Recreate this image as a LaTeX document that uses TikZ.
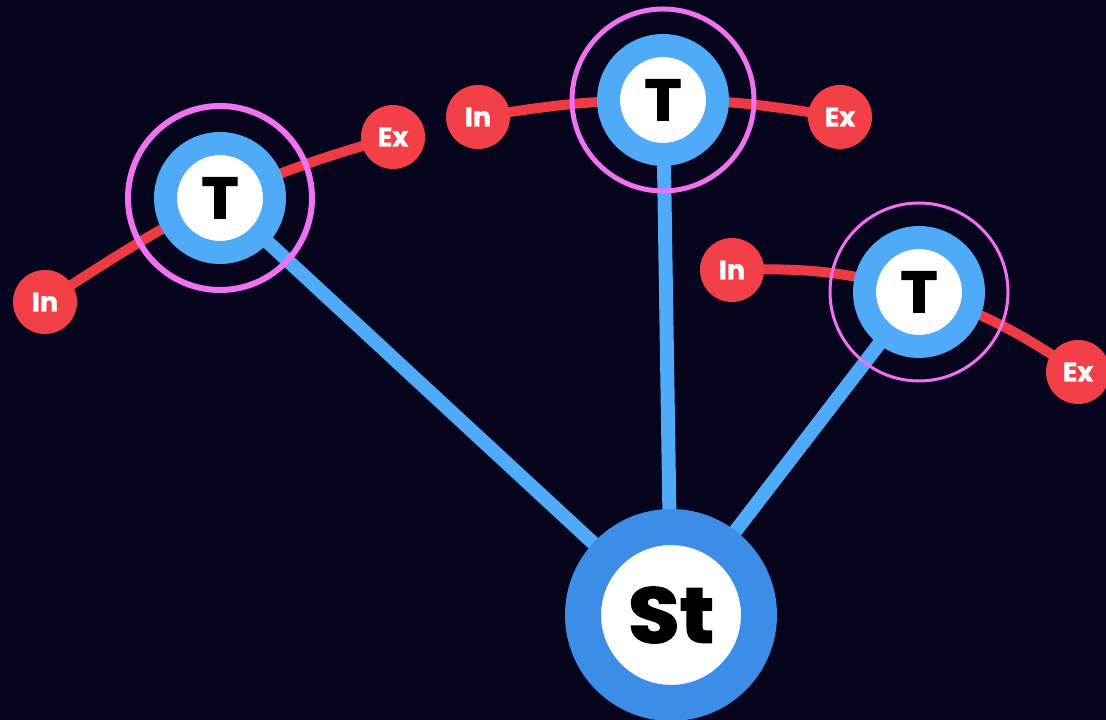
\documentclass[tikz,border=0pt]{standalone}
\usepackage{fontspec}
\setmainfont{Poppins}
\newfontfamily\heavyfont{Poppins}[FakeBold=2.2, FakeStretch=1.08]
\newfontfamily\labelfont{Poppins}[FakeBold=1.2]
\pgfdeclarelayer{back}
\pgfdeclarelayer{lines}
\pgfsetlayers{back,lines,main}
\begin{document}
\begin{tikzpicture}[x=1pt,y=1pt,
  tnode/.style={circle, fill=white, draw=tblue, line width=23pt, minimum size=109pt, inner sep=0pt,
    font=\heavyfont\bfseries\fontsize{58}{58}\selectfont, text=black},
  stnode/.style={circle, fill=white, draw=sblue, line width=36pt, minimum size=176pt, inner sep=0pt,
    font=\heavyfont\bfseries\fontsize{78}{78}\selectfont, text=black},
  endnode/.style={circle, fill=rednode, minimum size=64pt, inner sep=0pt,
    font=\labelfont\bfseries\fontsize{27}{27}\selectfont, text=white},
  flow/.style={draw=redline, line width=10pt},
  spoke/.style={draw=tblue, line width=14pt},
  halo/.style={draw=magring, line width=#1},
]
\definecolor{bg}{HTML}{07041E}
\definecolor{tblue}{HTML}{4FAAF8}
\definecolor{sblue}{HTML}{3C8DE8}
\definecolor{rednode}{HTML}{F23F48}
\definecolor{redline}{HTML}{EE3A44}
\definecolor{magring}{HTML}{F072F0}

\begin{pgfonlayer}{back}
  \fill[bg] (0,0) rectangle (1106,720);
\end{pgfonlayer}
\useasboundingbox (0,0) rectangle (1106,720);

% input / exit terminals
\node[endnode] (inL) at (45,418) {In};
\node[endnode] (exL) at (393,583) {Ex};
\node[endnode] (inT) at (478,603) {In};
\node[endnode] (exT) at (840,603) {Ex};
\node[endnode] (inR) at (732,450) {In};
\node[endnode] (exR) at (1078,348) {Ex};

% transfer nodes
\node[tnode] (tL) at (220,522) {T};
\node[tnode] (tT) at (663,620) {T};
\node[tnode] (tR) at (919,428) {T};

% halos around the transfer nodes
\draw[halo=6pt] (tL.center) circle[radius=92];
\draw[halo=5pt] (tT.center) circle[radius=91];
\draw[halo=3pt] (tR.center) circle[radius=89];

% station
\node[stnode] (st) at (671,105) {St};

% connectors, kept underneath the nodes
\begin{pgfonlayer}{lines}
  \path[flow] (inL.center) to[out=33,in=207] (tL.center) to[out=23,in=196] (exL.center);
  \path[flow] (inT.center) to[out=9,in=180] (tT.center) to[out=0,in=171] (exT.center);
  \path[flow] (inR.center) to[out=2,in=164] (tR.center) to[out=-18,in=146] (exR.center);
  \path[spoke] (st.center) -- (tL.center);
  \path[spoke] (st.center) -- (tT.center);
  \path[spoke] (st.center) -- (tR.center);
\end{pgfonlayer}
\end{tikzpicture}
\end{document}
